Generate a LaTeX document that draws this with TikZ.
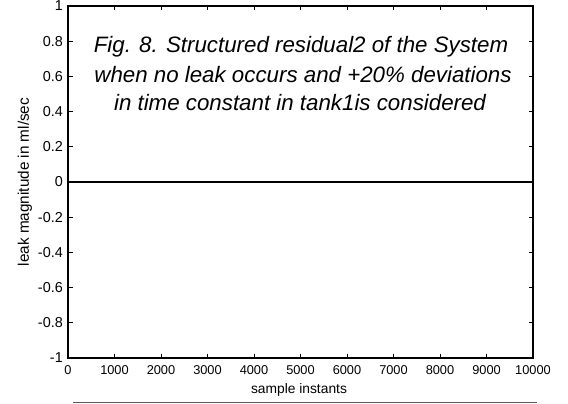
\documentclass[tikz,border=0pt]{standalone}
\usepackage{fontspec}
\setmainfont{Liberation Sans}
\begin{document}
\begin{tikzpicture}[x=1pt,y=-1pt,
  axisbox/.style={line width=1.1pt},
  tickmark/.style={line width=0.7pt},
  xticklbl/.style={inner sep=0pt,font=\fontsize{12.8}{14}\selectfont},
  yticklbl/.style={inner sep=0pt,font=\fontsize{14.4}{16}\selectfont},
  axlbl/.style={inner sep=0pt,font=\fontsize{13.8}{16}\selectfont},
  yaxlbl/.style={inner sep=0pt,font=\fontsize{15.3}{17}\selectfont},
  ttl/.style={inner sep=0pt,font=\fontsize{22.3}{27}\selectfont\itshape},
  dataline/.style={line width=2pt},
  rule/.style={line width=0.8pt,black!65}]
\useasboundingbox (0,0) rectangle (568,404);
% axes box
\coordinate (tl) at (68,6);
\coordinate (br) at (533,358);
\draw[axisbox] (tl) rectangle (br);
% x ticks
\foreach \i in {0,...,10}{
  \pgfmathsetmacro\xx{68+46.5*\i}
  \pgfmathtruncatemacro\lab{\i*1000}
  \draw[tickmark] (\xx,358) -- (\xx,353.5);
  \draw[tickmark] (\xx,6) -- (\xx,10.5);
  \node[xticklbl] (xl\i) at (\xx,370) {\lab};
}
% y ticks
\foreach \i/\v in {0/1,1/0.8,2/0.6,3/0.4,4/0.2,5/0,6/-0.2,7/-0.4,8/-0.6,9/-0.8,10/-1}{
  \pgfmathsetmacro\yy{6+35.2*\i}
  \draw[tickmark] (68,\yy) -- (72.5,\yy);
  \draw[tickmark] (533,\yy) -- (528.5,\yy);
  \node[yticklbl,anchor=east] (yl\i) at (63,\yy) {\v};
}
% data
\coordinate (d0) at (68,182);
\coordinate (d1) at (533,182);
\draw[dataline] (d0) -- (d1);
% labels
\node[yaxlbl,rotate=90] (ylab) at (25,182) {leak magnitude in ml/sec};
\node[axlbl] (xlab) at (299,390) {sample instants};
\node[ttl] (t1) at (301,47) {Fig. 8. Structured residual2 of the System};
\node[ttl] (t2) at (303,75) {when no leak occurs and +20\% deviations};
\node[ttl] (t3) at (300,103) {in time constant in tank1is considered};
% rule below
\coordinate (r0) at (73,402);
\coordinate (r1) at (537,402);
\draw[rule] (r0) -- (r1);
\end{tikzpicture}
\end{document}
